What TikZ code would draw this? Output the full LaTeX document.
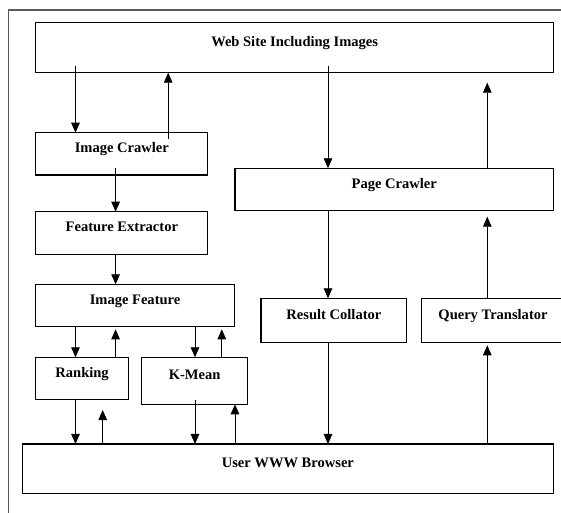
\documentclass[tikz,border=0pt]{standalone}
\usepackage{fontspec}
\setmainfont{Liberation Serif}
\usetikzlibrary{arrows.meta,calc}
\tikzset{
  box/.style={draw,line width=0.8pt,inner sep=0pt,outer sep=0pt,
    text height=7.5pt,text depth=9.4pt,font=\fontsize{10.9}{13}\selectfont\bfseries},
  arr/.style={line width=0.6pt,-{Triangle[length=7.5pt,width=6.4pt]}},
}
\begin{document}
\begin{tikzpicture}[x=0.75pt,y=-0.75pt]
		\useasboundingbox (0,0) rectangle (561,512);
		\draw[line width=1.2pt,color=black!65] (8.6,525)--(8.6,9.7)--(575,9.7);
		% boxes
		\node[box,minimum width=388.3pt,minimum height=37.5pt] (web) at (294.65,47.7) {Web Site Including Images};
		\node[box,minimum width=129.1pt,minimum height=31.7pt] (ic) at (121.85,153.85) {Image Crawler};
		\node[box,minimum width=129.1pt,minimum height=31.95pt] (fe) at (121.85,233) {Feature Extractor};
		\node[box,minimum width=148.9pt,minimum height=31.8pt] (if) at (135.05,305.5) {Image Feature};
		\node[box,minimum width=238.9pt,minimum height=31.8pt] (pc) at (394.25,189.5) {Page Crawler};
		\node[box,minimum width=109.4pt,minimum height=33pt] (rc) at (333.9,320.3) {Result Collator};
		\node[box,minimum width=107.3pt,minimum height=33pt] (qt) at (493,320.3) {Query Translator};
		\node[box,minimum width=69.5pt,minimum height=31.5pt] (rk) at (82.1,378.3) {Ranking};
		\node[box,minimum width=79.4pt,minimum height=35.25pt] (km) at (194.65,380.8) {K-Mean};
		\node[box,minimum width=398.5pt,minimum height=37pt] (br) at (287.85,468.65) {User WWW Browser};
		% columns of the arrows
		\coordinate (xa) at (75.5,0);
		\coordinate (xb) at (115.6,0);
		\coordinate (xc) at (168.2,0);
		\coordinate (xd) at (195,0);
		\coordinate (xe) at (221.8,0);
		\coordinate (xf) at (102.7,0);
		\coordinate (xg) at (235,0);
		\coordinate (xh) at (328,0);
		\coordinate (xi) at (487.3,0);
		% arrows
		\draw[arr] ($(web.south -| xa)+(0,-7)$) -- (ic.north -| xa);
		\draw[arr] ($(ic.north -| xc)+(0,6)$) -- (web.south -| xc);
		\draw[arr] ($(web.south -| xh)+(0,-7)$) -- (pc.north -| xh);
		\draw[arr] (pc.north -| xi) -- ($(web.south -| xi)+(0,10)$);
		\draw[arr] ($(ic.south -| xb)+(0,-7)$) -- (fe.north -| xb);
		\draw[arr] (fe.south -| xb) -- (if.north -| xb);
		\draw[arr] (if.south -| xa) -- (rk.north -| xa);
		\draw[arr] (rk.north -| xb) -- ($(if.south -| xb)+(0,2.6)$);
		\draw[arr] (if.south -| xd) -- (km.north -| xd);
		\draw[arr] (km.north -| xe) -- ($(if.south -| xe)+(0,2.6)$);
		\draw[arr] (rk.south -| xa) -- (br.north -| xa);
		\draw[arr] (br.north -| xf) -- ($(rk.south -| xf)+(0,10.7)$);
		\draw[arr] ($(km.south -| xd)+(0,-4)$) -- (br.north -| xd);
		\draw[arr] (br.north -| xg) -- (km.south -| xg);
		\draw[arr] (pc.south -| xh) -- (rc.north -| xh);
		\draw[arr] (rc.south -| xh) -- (br.north -| xh);
		\draw[arr] (br.north -| xi) -- ($(qt.south -| xi)+(0,3)$);
		\draw[arr] (qt.north -| xi) -- ($(pc.south -| xi)+(0,6)$);
\end{tikzpicture}
\end{document}
